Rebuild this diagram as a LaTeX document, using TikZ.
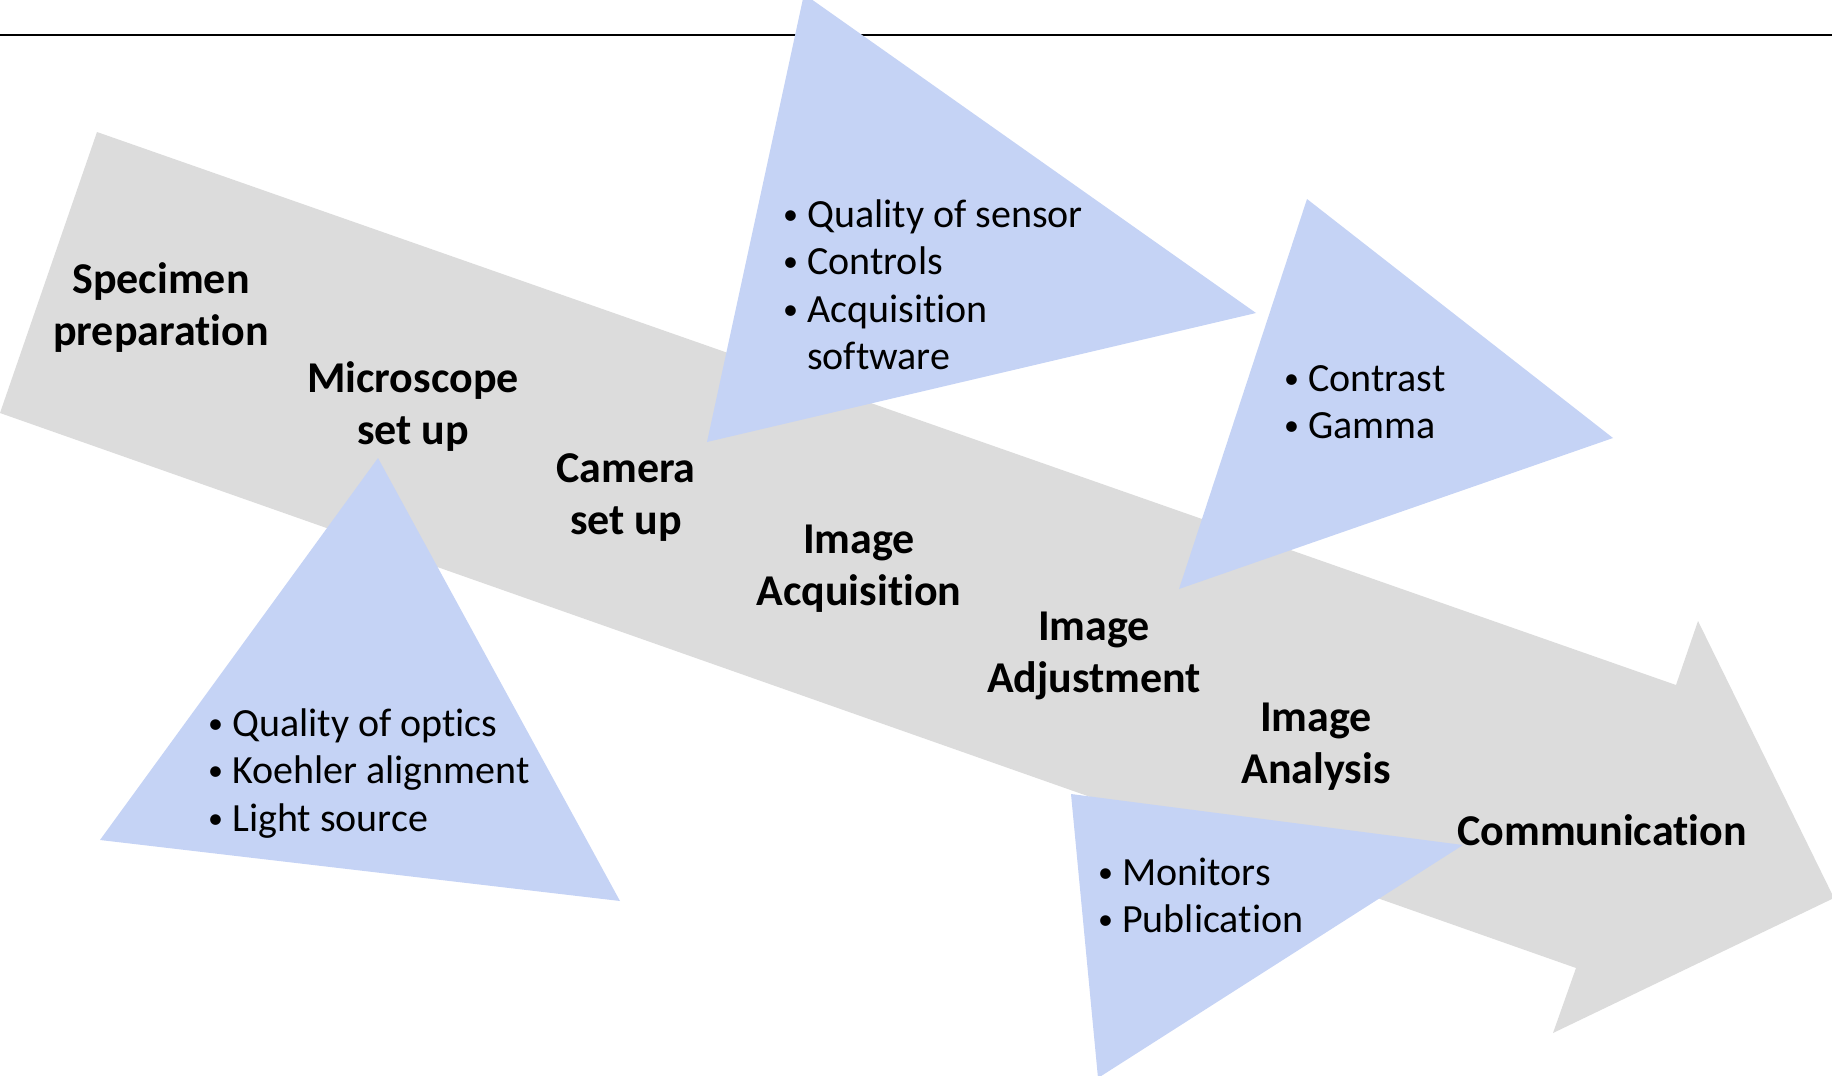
\documentclass[tikz,border=0pt]{standalone}
\usepackage{fontspec}
\setmainfont{Carlito}[Ligatures=NoCommon]
\usepackage{xcolor}
\definecolor{flowgray}{HTML}{DCDCDC}
\definecolor{notecolor}{HTML}{C5D3F5}
\newcommand{\stagetext}[2]{\begin{tabular}[t]{@{}c@{}}#1\\#2\end{tabular}}
\newcommand{\bul}{\makebox[24pt][l]{\raisebox{3pt}{\scalebox{0.75}{\textbullet}}}}

\begin{document}
\begin{tikzpicture}[x=1pt, y=-1pt,
    stage/.style={font=\fontsize{44}{52}\selectfont\bfseries, inner sep=0pt, anchor=base},
    note/.style={font=\fontsize{40}{47.5}\selectfont, inner sep=0pt, anchor=base west}]

    \useasboundingbox (0,0) rectangle (1832,1076);

    % Title rule
    \draw[line width=2.4pt] (0,35) -- (1832,35);

    % Workflow arrow
    \fill[flowgray] (97,132) -- (1676,685) -- (1698,621) -- (1834,898)
        -- (1553,1033) -- (1576,968) -- (0,413) -- cycle;

    % Side notes
    \fill[notecolor] (804,-6) -- (1256,313) -- (707,442) -- cycle;
    \fill[notecolor] (1307,199) -- (1613,438) -- (1179,589) -- cycle;
    \fill[notecolor] (378,458) -- (620,901) -- (100,840) -- cycle;
    \fill[notecolor] (1071,794) -- (1463,845) -- (1098,1078) -- cycle;

    \node[note] (sensornote) at (783,227) {\begin{tabular}[t]{@{}l@{}}
        \bul Quality of sensor\\ \bul Controls\\ \bul Acquisition\\ \hspace{24pt}software\end{tabular}};
    \node[note] (contrastnote) at (1284,391) {\begin{tabular}[t]{@{}l@{}}
        \bul Contrast\\ \bul Gamma\end{tabular}};
    \node[note] (opticsnote) at (208,736) {\begin{tabular}[t]{@{}l@{}}
        \bul Quality of optics\\ \bul Koehler alignment\\ \bul Light source\end{tabular}};
    \node[note] (monitornote) at (1098,885) {\begin{tabular}[t]{@{}l@{}}
        \bul Monitors\\ \bul Publication\end{tabular}};

    % Stages
    \node[stage] (specimen) at (161,293) {\stagetext{Specimen}{preparation}};
    \node[stage] (microscope) at (413,392) {\stagetext{Microscope}{set up}};
    \node[stage] (camera) at (626,482) {\stagetext{Camera}{set up}};
    \node[stage] (acquire) at (859,553) {\stagetext{Image}{Acquisition}};
    \node[stage] (adjust) at (1094,640) {\stagetext{Image}{Adjustment}};
    \node[stage] (analyse) at (1316,731) {\stagetext{Image}{Analysis}};
    \node[stage] (communicate) at (1602,845) {Communication};

\end{tikzpicture}
\end{document}
